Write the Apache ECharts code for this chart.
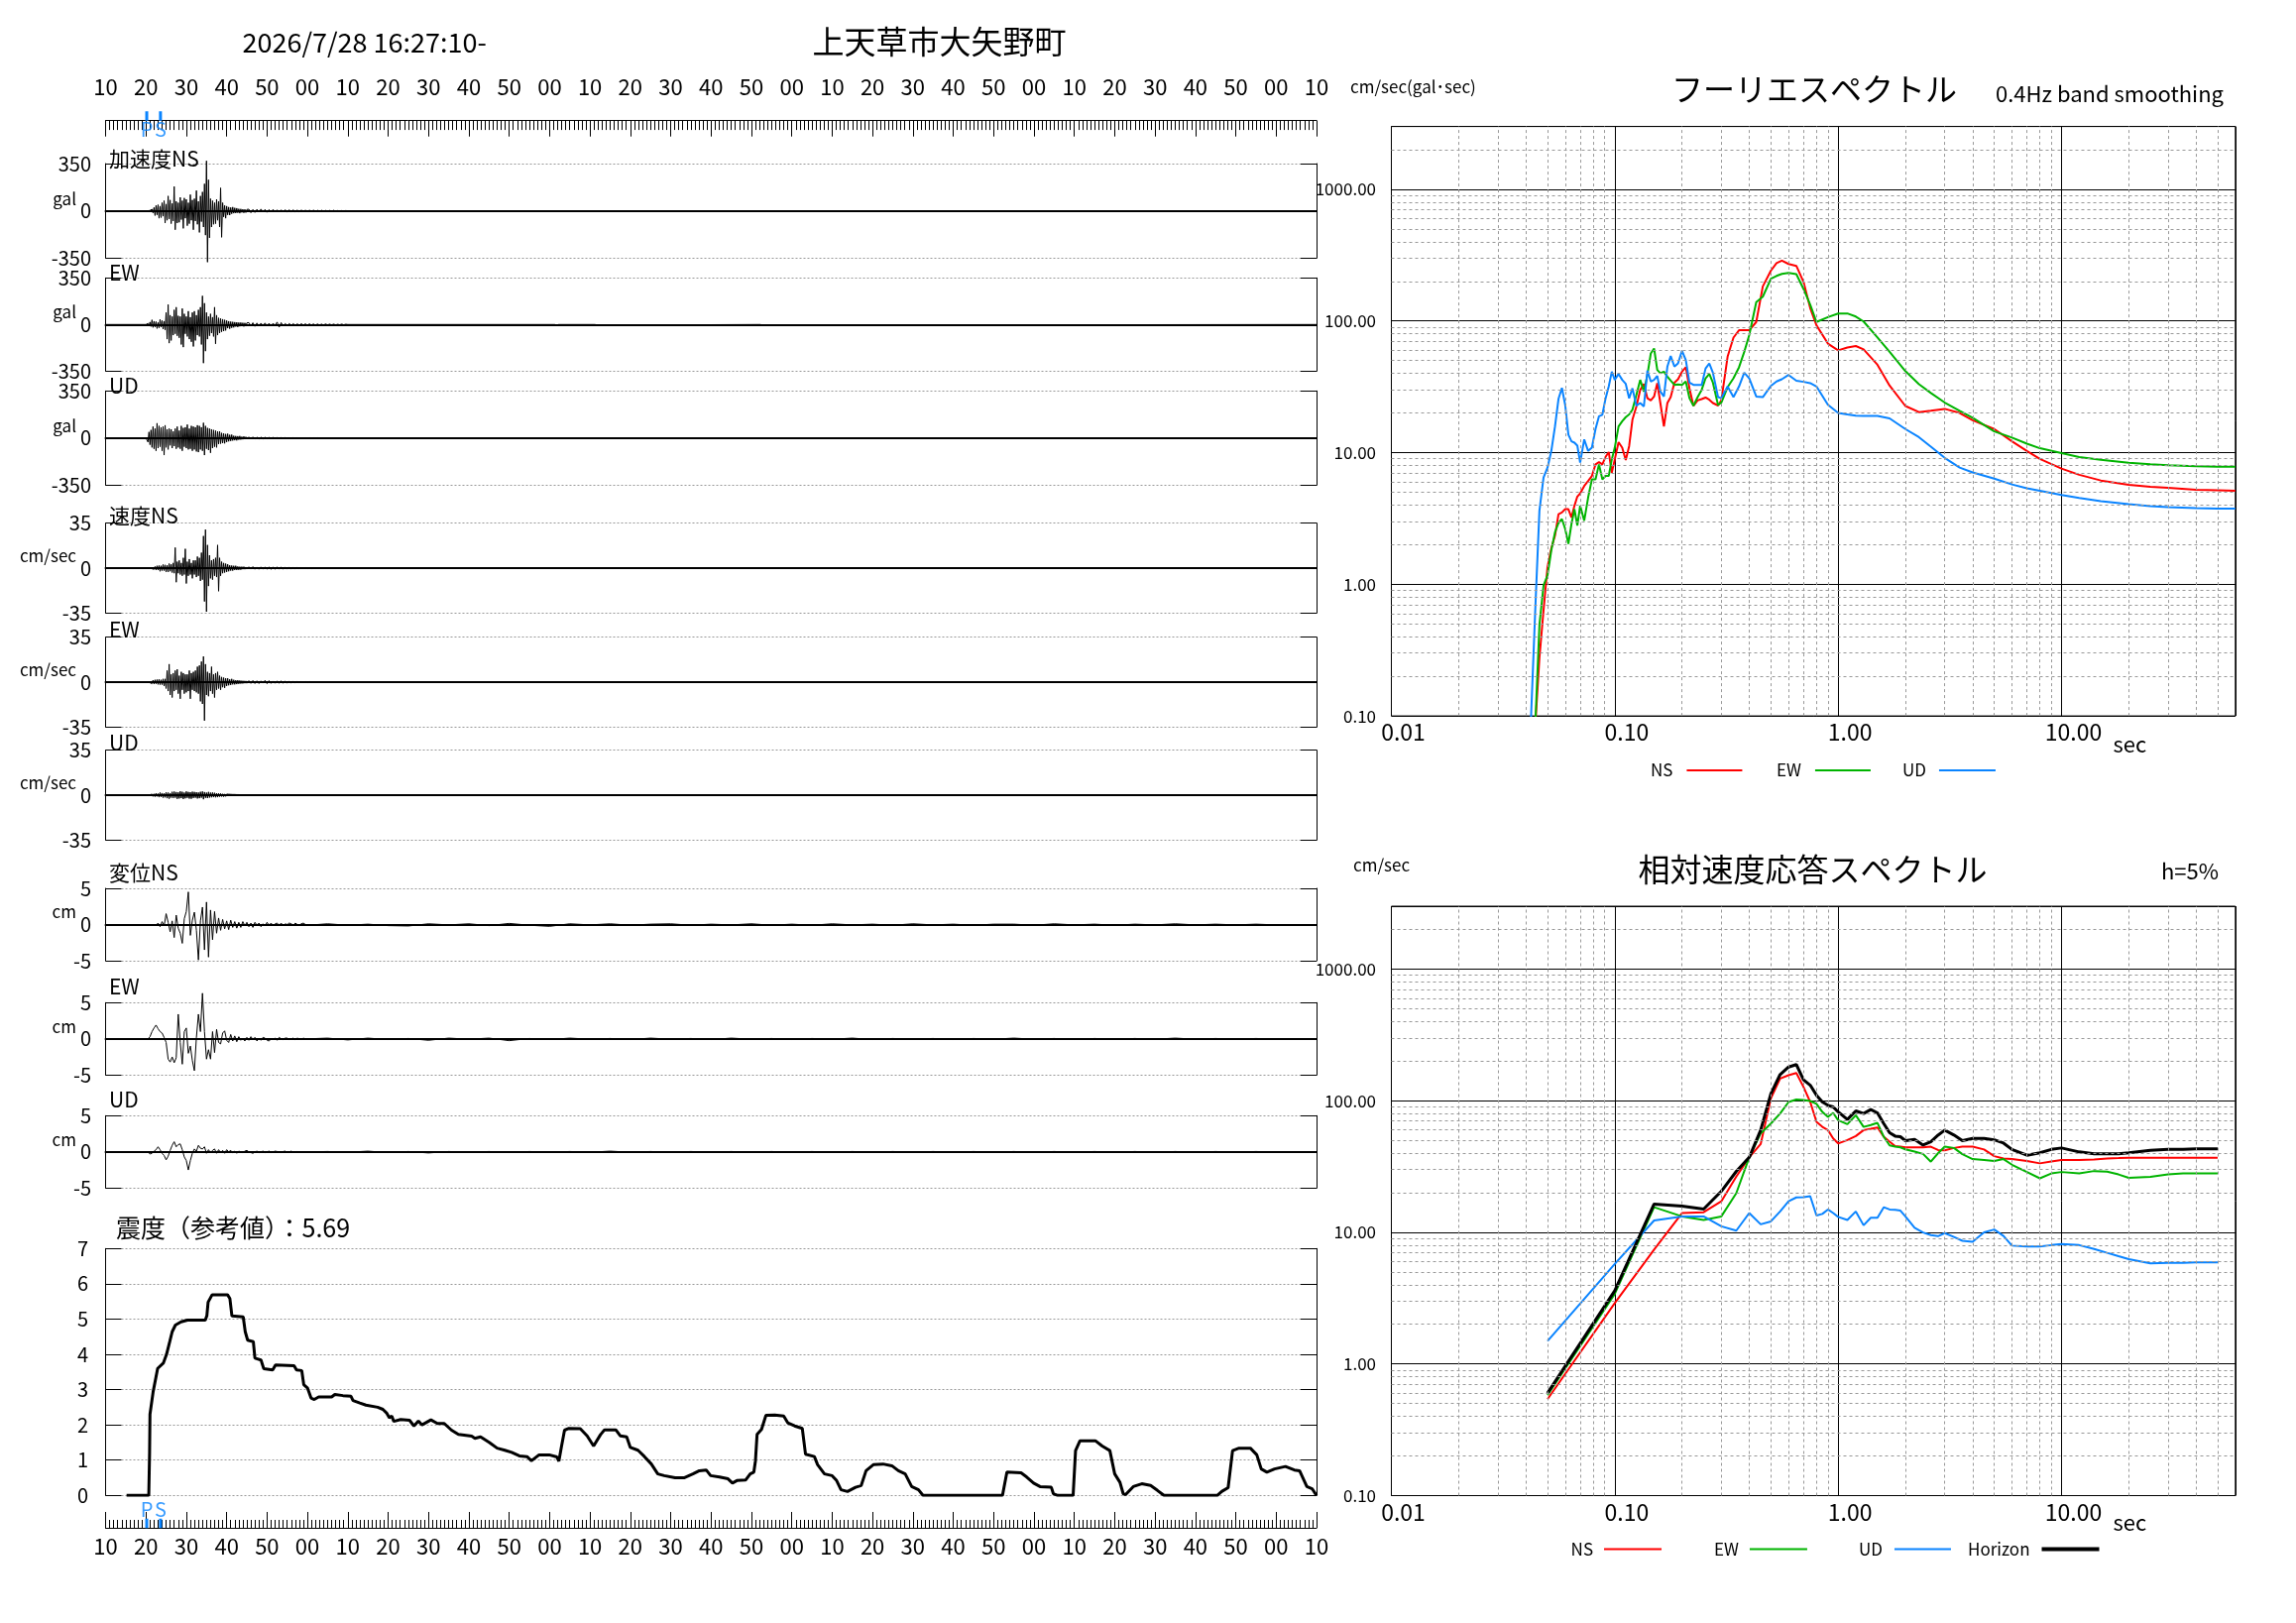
<!DOCTYPE html>
<html><head><meta charset="utf-8">
<script src="https://cdn.jsdelivr.net/npm/echarts/dist/echarts.min.js"></script>
<style>html,body{margin:0;padding:0;background:#fff}#c{width:2316px;height:1637px}</style>
</head><body><div id="c"></div>
<script>
// ---------------- DATA ----------------
const TIME_MIN = 10, TIME_MAX = 310;          // seconds after 16:27:00
const PS_TIMES = [20.2, 23.6];
const PS_LABELS = ['P', 'S'];

const WAVE_TITLES = ['加速度NS','EW','UD','速度NS','EW','UD','変位NS','EW','UD'];
const WAVE_UNITS = ['gal','gal','gal','cm/sec','cm/sec','cm/sec','cm','cm','cm'];
const WAVE_RANGE = [350,350,350,35,35,35,5,5,5];

// acceleration (gal), 0.25 s steps from t=20 s
const ACC_NS = [0,0,0,0, 3,-8,12,-15, 25,-35,40,-30, 45,-55,35,-50, 60,-40,75,-90, 50,-70,110,-60,
 80,-95,55,-75, 180,-140,70,-90, 60,-85,100,-65, 75,-130,95,-55, 85,-110,60,-95, 120,-70,80,-140,
 90,-75,150,-100, 70,-160,110,-80, 140,-120,200,-180, 370,-380,230,-200, 90,-120,75,-100, 60,-95,85,-70,
 70,-120,170,-196, 60,-45,40,-55, 35,-30,28,-32, 25,-22,28,-18, 22,-17,20,-15, 15,-18,14,-12, 12,-15,11,-13, 10];
const ACC_EW = [0,0,8,-12, 18,-15,35,-22, 25,-18,22,-30, 15,-25,38,-20, 30,-35,25,-40, 90,-110,150,-140,
 70,-120,60,-80, 110,-70,130,-85, 65,-100,60,-150, 120,-170,80,-70, 60,-90,100,-110, 55,-130,90,-165,
 100,-120,70,-80, 110,-90,130,-150, 215,-290,160,-200, 90,-110,60,-85, 80,-65,55,-90, 130,-145,70,-80,
 50,-65,45,-55, 40,-50,35,-45, 30,-28,25,-32, 22,-25,20,-22, 18,-16,17,-19, 15,-14,15,-13, 13,-15,12,-13, 12];
const ACC_UD = [0,5,-30,45, -50,60,-70,85, -80,70,-95,110, -75,90,-65,80, -95,85,-127,95, -70,65,-85,70,
 -55,65,-75,50, -60,70,-80,85, -70,55,-80,90, -95,75,-65,80, -75,100,-85,70, -80,90,-95,85,
 -85,80,-100,95, -105,90,-85,80, -95,113,-127,90, -80,75,-90,70, -110,65,-75,60, -65,55,-70,50,
 -45,50,-42,38, -38,34,-40,30, -30,32,-25,24, -22,25,-19,17, -17,15,-18,14, -13,15,-12,10, -10,12,-9,9, -8];
// acceleration coda, 0.5 s steps from t=45.5 s
const ACC_NS_TAIL = [12,-14,10,-12,11,-10,13,-9,10,-11, 9,-7,10,-8,7,-9,7,-8,8,-7,
 7,-6,7,-7,6,-7,6,-5,5,-5, 5,-4,5,-4,4,-4,4,-3,3,-4, 3,-3,4,-2,2,-3,2,-2,2,0];
const ACC_EW_TAIL = [14,-11,13,-14,11,-12,10,-9,11,-10, 9,-11,9,-7,18,-20,14,-12,7,-7,
 7,-6,6,-7,5,-6,6,-5,5,-5, 5,-4,4,-5,4,-4,3,-4,4,-3, 3,-3,3,-3,2,-2,3,-2,2,0];
const ACC_UD_TAIL = [8,-7,8,-8,6,-6,6,-6,5,-5, 4,-5,4,-3,3,-4,3,-3,3,-3,
 2,-2,3,-2,2,-2,2,-2,2,-2, 2,-2,2,-2,2,-2,1,-1,1,-1, 1,-1,1,-1,1,-1,1,-1,1,0];
const ACC_EW_BLIPS = [[121.25,0],[121.5,8],[121.75,-7],[122,5],[122.25,0],[131.25,0],[131.5,5],[131.75,-5],[132,0],
 [172.25,0],[172.5,6],[172.75,-6],[173,5],[173.25,-5],[173.5,0]];

// velocity (cm/sec), 0.25 s steps from t=20 s
const VEL_NS = [0,0,0,0, 0,0.3,-0.5,0.8, -1,1.2,-1.5,1.8, -1.5,2,-2.5,1.8, -2,2.8,-2,2.5, -3,2.2,-3,3.5,
 -2.5,3,-3.5,4, -4,16,-11,5, -4,6,-5,4, -6,8,-5,15, -12,5,-6,7, -5,4,-8,6,
 -5,6,-7,9, -6,8,-10,12, -9,25,-26,30, -34,18,-14,10, -8,6,-9,7, -6,8,-7,18,
 -18,8,-6,5, -4,4,-3.5,3.5, -3,3,-2.5,2.2, -2,2,-2,1.8, -1.5,1.8,-1.5,1.3, -1.4,1.1,-1.3,1.1, -0.9,1.1,-0.9,0.8, -0.8];
const VEL_EW = [0,0,0,0.3, -0.5,1,-1.2,1.5, -1.5,1.8,-1.3,2, -1.8,2.2,-2,1.8, -2,2.5,-3,2.5, -5,9,-7,14,
 -10,6,-12,7, -7,9,-6,10, -9,5,-13,8, -6,7,-9,6, -8,6,-7,9, -13,7,-6,8,
 -7,9,-8,12, -9,13,-15,16, -17,20,-30,14, -10,8,-11,7, -7,12,-9,6, -12,7,-6,8,
 -5,5,-6,4, -4,3.5,-4.5,3, -3,3,-2.5,2.2, -2.2,2.5,-1.8,1.8, -1.8,1.5,-1.6,1.5, -1.4,1.3,-1.2,1.1, -1.1,1,-0.9,0.9, -0.9];
const VEL_UD = [0,0,0,0, 0.3,-0.5,0.8,-1, 1,-1.2,1.5,-1, 1.2,-1.6,2,-1.4, 1.6,-2,1.4,-1.8, 2.2,-2.4,2,-2.8,
 1.6,-2,2.6,-2.2, 2.8,-2,2.4,-2.9, 2.2,-2.6,3,-2.3, 2.6,-3,2,-2.5, 2.9,-2.1,2.5,-2.7, 2.3,-2.8,2.7,-2.2,
 2.5,-2,2.3,-2.6, 2.1,-2.4,2.6,-2, 2.9,-3.2,2.4,-2.1, 2,-2.3,2.5,-1.9, 2,-1.7,2.1,-1.6, 1.8,-1.7,1.5,-1.6,
 1.4,-1.2,1.3,-1.1, 1,-1.2,0.9,-1, 0.8,-0.7,0.7,-0.7, 0.6,-0.6,0.5,-0.6, 0.5,-0.4,0.4,-0.5, 0.4,-0.3,0.3,-0.3, 0.3,-0.3,0.3,-0.2, 0.2];
// velocity coda, 0.5 s steps from t=45.5 s
const VEL_NS_TAIL = [1.0,-0.8,1.1,-0.9,0.8,-0.9,0.9,-0.7,0.8,-0.8, 0.7,-0.8,0.6,-0.7,0.7,-0.5,0.6,-0.6,0.5,-0.5,
 0.5,-0.5,0.4,-0.5,0.5,-0.4,0.4,-0.4,0.4,-0.4, 0.3,-0.4,0.3,-0.3,0.3,-0.3,0.3,-0.3,0.3,-0.2, 0.2,-0.2,0.3,-0.2,0.2,-0.2,0.2,-0.2,0.1,0];
const VEL_EW_TAIL = [1.1,-1,1.2,-1.1,1,-1.1,0.9,-0.8,1.3,-1.2, 1.1,-1,0.8,-0.9,0.8,-0.7,0.8,-0.7,0.6,-0.6,
 0.5,-0.6,0.5,-0.5,0.5,-0.4,0.4,-0.4,0.4,-0.4, 0.4,-0.3,0.3,-0.3,0.3,-0.3,0.3,-0.3,0.3,-0.2, 0.2,-0.2,0.2,-0.2,0.2,-0.2,0.2,-0.1,0.1,0];
const VEL_UD_TAIL = [-0.3,0.2,-0.3,0.2,-0.2,0.2,-0.2,0.2,-0.2,0.2, -0.2,0.2,-0.2,0.1,-0.2,0.1,-0.1,0.2,-0.1,0.1,
 -0.1,0.1,-0.1,0.1,-0.1,0.1,-0.1,0.1,-0.1,0.1, -0.1,0.1,-0.1,0.1,-0.1,0.1,-0.1,0.1,-0.1,0.1, -0.1,0.1,-0.1,0.1,-0.1,0.1,-0.1,0.1,-0.1,0];

// displacement (cm), 0.5 s steps from t=20 s
const DISP_NS = [0,0, 0,0, 0,-0.1, 0.2,-0.3, 0.4,-0.2, 1.5,0.3, -1.0,0.5, -1.8,1.3, -0.5,-1.2, -2.6,0.8,
 1.8,4.5, -1.5,0.6, 1.7,-0.8, -4.9,0.5, 2.4,-3.5, 3.1,-4.5, 2.0,-2.1, 1.8,-1.2, 0.9,-0.8, 0.7,-0.6,
 0.5,-0.7, 0.6,-0.4, 0.4,-0.5, 0.3,-0.4, 0.4,-0.2, 0.3,-0.3, 0.2,-0.4, 0.3,-0.1, 0.2,-0.3, 0.1,-0.2,
 0.3,-0.1, 0.2,-0.2, 0.1,0.2, -0.1,0.2, -0.2,0.1, 0,0.2, 0.1,-0.1, 0.2,0, -0.1,0.1, 0.2,0, -0.1];
const DISP_EW = [0,0, 0.3,1.0, 1.5,1.9, 1.4,1.0, 0.8,0.2, -0.5,-2.8, -3.2,-2.5, -3.3,-2.6, 3.4,-0.5, -3.5,1.0,
 1.5,-2.0, -1.0,-3.0, -4.4,0.2, 3.4,1.0, 6.3,1.0, -2.8,-1.5, -2.8,1.0, -1.9,1.3, -0.5,-0.7, 0.8,1.1,
 -0.2,-0.5, 0.6,-0.3, 0.4,-0.4, 0.3,-0.2, 0.1,-0.3, 0.2,-0.2, 0.3,-0.1, 0.2,-0.3, 0.1,-0.2, 0.2,0.1,
 -0.2,-0.3, 0,-0.1, 0.1,-0.2, 0.2,0, -0.1,0.1, 0.1,-0.1, 0,0.1, -0.1,0.1, 0,-0.1, 0.1,0, 0];
const DISP_UD = [0,0, -0.3,-0.2, 0.1,0.3, 0.7,0.3, -0.2,-0.5, -1.1,-0.6, 0.2,0.9, 1.4,0.7, 1.0,1.1, 0.3,-0.7,
 -1.2,-2.5, -1.2,-0.2, 0.4,0.1, 0.9,0.5, 0.4,0.7, -0.2,0.3, -0.1,0.2, 0.4,-0.2, 0.3,-0.1, 0.2,-0.2,
 0.3,0, 0.2,-0.1, 0.1,-0.2, 0.1,0, -0.1,0.1, 0.2,0, -0.1,-0.2, 0,0.1, -0.1,0, 0.1,-0.1,
 0,0.1, -0.1,0, 0.1,0.05, 0,-0.1, 0.05,0.1, -0.05,0, 0.1,-0.05, 0,0.05, -0.05,0, 0.05,0, 0];
// displacement long-period coda, 5 s steps from t=65 s
const DISP_NS_TAIL = [0.1,-0.1,0.05,-0.15,-0.2,0.1,-0.05,0.1,-0.15,0.15, -0.1,-0.25,0.1,-0.05,0.1,-0.1,0.05,0.1,-0.1,0.05,
 -0.05,0.1,-0.1,0.05,-0.1,0.1,-0.05,0.05,-0.1,0.1, -0.05,0.05,-0.1,0.05,0.05,-0.1,0.1,-0.05,0.05,-0.1, 0.05,-0.05,0.1,-0.05,0.05,-0.05,0.05,-0.05,0];
const DISP_EW_TAIL = [0.1,-0.15,0.1,-0.1,0.05,-0.2,0.1,-0.05,0.1,-0.25, 0.05,-0.1,0.1,-0.05,0.05,-0.1,0.1,-0.05,0.05,-0.1,
 0.1,-0.05,0.05,-0.1,0.05,-0.05,0.1,-0.1,0.05,-0.05, 0.05,-0.1,0.05,-0.05,0.1,-0.05,0.05,-0.1,0.05,-0.05, 0.05,-0.05,0.1,-0.05,0.05,-0.05,0.05,-0.05,0];
const DISP_UD_TAIL = [0.05,-0.05,0.1,-0.1,0.05,-0.15,0.05,-0.05,0.05,-0.1, 0.05,-0.05,0.05,-0.05,0.1,-0.05,0.05,-0.05,0.05,-0.05,
 0.05,-0.05,0.05,-0.05,0.05,-0.05,0.05,-0.05,0.05,-0.05, 0.05,-0.05,0.05,-0.05,0.05,-0.05,0.05,-0.05,0.05,-0.05, 0.05,-0.05,0.05,-0.05,0.05,-0.05,0.05,-0.05,0];

// seismic intensity (reference value) vs time [t, I]
const INTENSITY = [[15.2,0],[20.7,0],[20.9,1.2],[21.0,2.3],[21.8,2.95],[22.9,3.6],[24.3,3.75],[25.1,4.0],[25.9,4.36],[26.5,4.64],
 [27.3,4.83],[28.7,4.92],[30.3,4.97],[34.7,4.97],[35.1,5.1],[35.4,5.48],[36.4,5.69],[40.2,5.69],[40.8,5.58],[41.3,5.09],
 [44.1,5.06],[44.6,4.64],[45.2,4.4],[46.6,4.36],[47.0,3.89],[48.5,3.84],[49.2,3.59],[51.4,3.56],[52.1,3.7],[56.7,3.68],
 [57.3,3.56],[58.6,3.54],[59.1,3.14],[60.0,3.05],[60.9,2.76],[61.7,2.72],[62.8,2.79],[66.0,2.79],[66.8,2.86],[68.8,2.83],
 [70.8,2.81],[71.3,2.69],[73.0,2.62],[74.5,2.56],[77.4,2.5],[78.7,2.44],[79.6,2.34],[80.3,2.2],[80.9,2.25],[81.4,2.1],
 [83.1,2.15],[85.3,2.13],[86.4,1.97],[87.5,2.11],[88.4,2.0],[89.5,2.07],[90.6,2.14],[92.2,2.04],[93.9,2.04],[95.7,1.85],
 [97.4,1.73],[100.7,1.68],[101.5,1.62],[102.9,1.66],[105.1,1.5],[107.0,1.34],[108.9,1.28],[110.6,1.22],[112.5,1.12],[114.4,1.1],
 [115.5,0.98],[117.4,1.15],[119.9,1.15],[121.8,1.09],[122.3,0.97],[122.9,1.36],[123.7,1.85],[124.8,1.9],[127.6,1.89],[129.3,1.69],
 [130.9,1.4],[132.6,1.72],[133.6,1.86],[136.4,1.86],[137.5,1.69],[139.1,1.66],[140.0,1.36],[141.9,1.28],[143.5,1.1],[145.2,0.89],
 [146.8,0.61],[148.4,0.56],[151.1,0.5],[153.3,0.5],[155.5,0.61],[157.1,0.7],[158.8,0.72],[159.9,0.56],[162.1,0.52],[164.2,0.47],
 [165.3,0.35],[166.4,0.42],[168.6,0.44],[169.7,0.61],[170.6,0.66],[171.0,0.98],[171.4,1.73],[172.5,1.87],[173.6,2.27],[175.8,2.28],
 [178.0,2.25],[179.0,2.06],[180.7,1.97],[182.6,1.9],[183.4,1.17],[185.6,1.1],[186.4,0.87],[188.1,0.61],[190.0,0.56],[191.1,0.42],
 [192.2,0.16],[193.8,0.11],[195.8,0.23],[197.2,0.28],[198.4,0.7],[200.2,0.87],[202.6,0.89],[204.8,0.84],[206.4,0.7],[208.1,0.61],
 [209.7,0.25],[211.4,0.16],[212.5,0],[232.2,0],[233.3,0.66],[236.8,0.64],[238.2,0.52],[239.9,0.35],[241.5,0.25],[244.3,0.23],
 [244.8,0.05],[245.9,0],[249.7,0],[250.3,1.27],[251.4,1.55],[255.2,1.55],[256.9,1.4],[258.8,1.27],[260.0,0.61],[261.3,0.37],
 [262.1,0.05],[262.7,0.02],[264.6,0.25],[266.7,0.33],[268.9,0.28],[270.6,0.14],[272.2,0],[285.4,0],[286.5,0.11],[288.1,0.22],
 [289.2,1.27],[290.8,1.34],[293.6,1.34],[295.2,1.15],[296.3,0.75],[297.7,0.66],[299.6,0.75],[302.3,0.82],[304.5,0.72],[305.8,0.7],
 [307.6,0.25],[308.9,0.19],[310.0,0]];
const INTENSITY_VALUE = '5.69';

// Fourier spectrum (cm/sec), periods in sec
const FS_T = [0.040,0.042,0.044,0.046,0.048,0.050,0.052,0.054,0.056,0.058,0.060,0.062,0.064,0.066,0.068,0.070,
 0.073,0.076,0.079,0.082,0.085,0.088,0.091,0.094,0.097,0.100,0.104,0.108,0.112,0.116,0.120,0.125,0.130,0.135,0.140,
 0.145,0.150,0.155,0.160,0.166,0.172,0.178,0.185,0.192,0.200,0.208,0.216,0.225,0.235,0.245,0.255,0.265,0.275,0.29,0.30,
 0.32,0.34,0.36,0.38,0.40,0.43,0.46,0.50,0.53,0.56,0.60,0.65,0.70,0.75,0.80,0.90,1.0,1.1,1.2,1.3,1.5,1.7,2.0,2.3,2.6,
 3.0,3.5,4.0,5.0,6.0,7.0,8.0,10,12,15,20,25,30,40,50,60];
const FS_NS = [null,null,0.08,0.275,0.637,1.35,1.88,2.34,3.41,3.51,3.72,3.72,3.22,3.95,4.64,4.89,
 5.58,6.09,6.65,8.14,8.47,8.14,9.30,10.1,7.04,8.88,12.0,10.9,8.78,11.2,17.8,22.4,30.0,33.3,25.9,
 24.9,26.7,33.7,23.8,15.8,23.8,26.4,34.0,36.1,41.2,44.5,30.8,22.7,24.9,25.5,26.2,25.2,23.8,22.8,24.9,
 53.5,74.8,85.1,85.1,85.1,98.3,183,241,275,287,271,262,198,125,92.7,67.3,59.8,62.9,64.5,60.8,46.5,32.3,22.6,20.3,20.8,
 21.5,20.0,17.6,15.1,12.2,10.3,8.96,7.57,6.79,6.14,5.69,5.50,5.40,5.23,5.18,5.14];
const FS_EW = [null,null,0.08,0.49,0.98,1.17,1.81,2.48,2.92,3.13,2.63,2.03,2.87,3.72,2.79,3.95,
 3.04,4.56,6.27,6.27,8.14,6.27,6.65,6.65,8.88,10.9,15.8,17.3,18.6,19.5,21.2,27.5,35.7,29.1,38.9,
 56.7,61.8,42.5,40.1,41.2,37.8,35.2,32.7,32.9,32.7,34.7,25.9,22.7,26.4,30.0,36.7,39.6,34.0,23.0,24.0,
 31.4,36.7,44.5,58.3,78.0,139,153,209,220,228,232,227,175,133,98.3,107,114,114,108,99.1,75.0,58.3,41.6,33.1,28.4,
 24.0,20.8,18.4,14.5,13.0,11.7,10.8,9.92,9.27,8.81,8.38,8.17,8.03,7.89,7.83,7.83];
const FS_UD = [null,0.08,0.60,3.62,6.46,7.69,10.3,15.8,25.6,31.0,23.0,13.7,12.2,11.9,11.3,8.4,
 12.6,10.3,10.9,15.1,18.9,19.4,25.9,31.8,41.2,35.7,39.6,35.7,33.3,25.9,30.8,22.7,23.8,22.4,42.0,
 34.7,35.7,38.2,29.1,26.7,45.0,54.1,45.0,47.6,59.4,50.5,34.0,32.7,32.7,32.7,43.6,47.6,40.5,26.4,25.9,
 31.8,26.4,31.8,40.5,36.7,26.7,26.4,32.1,34.7,36.1,38.9,35.2,34.5,33.7,31.8,23.1,20.0,19.5,19.1,19.0,19.0,18.2,15.1,13.1,11.1,
 9.12,7.69,7.08,6.34,5.73,5.36,5.14,4.76,4.53,4.27,4.06,3.92,3.85,3.79,3.76,3.76];

// relative velocity response spectrum h=5% (cm/sec)
const RS_T = [0.05,0.10,0.15,0.20,0.25,0.30,0.35,0.40,0.45,0.50,0.55,0.60,0.65,0.70,0.75,0.80,0.85,0.90,0.95,1.0,
 1.1,1.2,1.3,1.4,1.5,1.6,1.7,1.8,1.9,2.0,2.2,2.4,2.6,2.8,3.0,3.3,3.6,4.0,4.5,5.0,5.5,6.0,7.0,8.0,9.0,10,12,14,16,18,20,25,30,35,40,50];
const RS_NS = [0.54,2.90,7.38,14.0,14.2,17.2,26.5,37.1,46.8,104,147,156,162,127,97.7,69.0,63.2,59.7,51.6,47.3,
 50.2,53.8,59.7,61.1,62.5,53.2,48.8,45.2,44.7,44.2,44.2,44.2,44.7,42.2,41.9,43.7,44.8,44.8,42.6,37.9,36.3,36.0,34.8,33.4,34.5,35.4,35.4,35.7,36.3,36.6,36.9,36.9,36.9,36.9,36.9,36.9];
const RS_EW = [0.58,3.4,15.5,13.2,12.4,13.2,19.8,37.1,56.4,67.0,79.8,97.7,102,101,99.4,94.4,82.0,75.3,80.7,71.1,
 66.2,77.5,63.2,65.2,67.8,53.2,45.7,44.7,44.2,42.7,41.0,39.4,34.4,39.8,44.8,43.7,39.2,36.0,35.4,34.8,36.0,32.6,28.7,25.7,28.0,28.7,28.0,29.2,28.9,27.5,25.9,26.4,27.5,28.0,28.0,28.0];
const RS_UD = [1.49,5.75,12.3,13.2,13.2,11.1,10.3,14.0,11.5,12.1,14.4,17.2,18.4,18.5,18.8,13.4,13.8,14.9,14.0,13.1,
 12.4,14.4,11.3,12.9,12.9,15.5,14.9,14.8,14.6,13.2,10.8,9.97,9.52,9.35,9.86,9.22,8.62,8.47,10.0,10.5,9.37,7.92,7.79,7.79,7.99,8.13,7.99,7.47,6.98,6.58,6.26,5.80,5.85,5.85,5.90,5.90];
const RS_H = [0.60,3.60,16.4,15.8,15.0,20.5,29.0,37.1,59.7,113,158,180,188,144,131,110,97.7,92.2,89.5,82.2,
 71.9,83.6,79.8,85.5,80.7,67.0,57.0,53.8,53.2,49.7,50.8,46.0,48.8,54.7,59.7,54.8,49.6,51.7,51.7,50.4,47.6,42.6,38.5,40.2,42.6,43.7,40.8,39.5,39.5,39.5,40.2,41.9,42.6,42.6,43.0,43.0];

const LOG_X_MINOR = [0.02,0.03,0.04,0.05,0.06,0.07,0.08,0.09,0.2,0.3,0.4,0.5,0.6,0.7,0.8,0.9,2,3,4,5,6,7,8,9,20,30,40,50];
const LOG_Y_MINOR = [0.2,0.3,0.4,0.5,0.6,0.7,0.8,0.9,2,3,4,5,6,7,8,9,20,30,40,50,60,70,80,90,200,300,400,500,600,700,800,900,2000];

// ---------------- LAYOUT / STYLE ----------------
const FONT = 'Noto Sans CJK JP';
const RED = '#ff0000', GREEN = '#00b400', BLUE = '#0a84ff', GRID_GRAY = '#999';
const L = 106.5, W = 1221.5;
const WAVE_LAYOUT = [
  {top:165, height:95.3, titleY:160}, {top:280.3, height:94, titleY:275}, {top:394.3, height:95, titleY:389.3},
  {top:527.7, height:90.6, titleY:520}, {top:642.7, height:90.6, titleY:635}, {top:756.7, height:90.6, titleY:749.3},
  {top:896, height:73, titleY:880}, {top:1011.3, height:73, titleY:995}, {top:1125.3, height:73, titleY:1109}
];

function wave(main, t0, dt, tail, t1, dt1, extra) {
  const pts = [[TIME_MIN, 0]];
  main.forEach((v, i) => pts.push([t0 + i * dt, v]));
  tail.forEach((v, i) => pts.push([t1 + i * dt1, v]));
  (extra || []).forEach(p => pts.push(p));
  pts.push([TIME_MAX, 0]);
  pts.sort((a, b) => a[0] - b[0]);
  return pts;
}
const WAVES = [
  wave(ACC_NS, 20, 0.25, ACC_NS_TAIL, 45.5, 0.5),
  wave(ACC_EW, 20, 0.25, ACC_EW_TAIL, 45.5, 0.5, ACC_EW_BLIPS),
  wave(ACC_UD, 20, 0.25, ACC_UD_TAIL, 45.5, 0.5),
  wave(VEL_NS, 20, 0.25, VEL_NS_TAIL, 45.5, 0.5),
  wave(VEL_EW, 20, 0.25, VEL_EW_TAIL, 45.5, 0.5),
  wave(VEL_UD, 20, 0.25, VEL_UD_TAIL, 45.5, 0.5),
  wave(DISP_NS, 20, 0.5, DISP_NS_TAIL, 65, 5),
  wave(DISP_EW, 20, 0.5, DISP_EW_TAIL, 65, 5),
  wave(DISP_UD, 20, 0.5, DISP_UD_TAIL, 65, 5)
];

const grids = [], xAxes = [], yAxes = [], series = [], graphics = [];
const timeFmt = v => String(Math.round(v) % 60).padStart(2, '0');
const decFmt = v => { const l = Math.log10(v); return Math.abs(l - Math.round(l)) < 1e-6 ? v.toFixed(2) : ''; };
function addGrid(g) { grids.push(Object.assign({outerBoundsMode:'none', containLabel:false}, g)); return grids.length - 1; }
function txt(text, x, y, size, align, color) {
  return {type:'text', x:x, y:y, silent:true, z:100,
    style:{text:text, fill:color || '#000', font:size + 'px "' + FONT + '"', fontSize:size, fontFamily:FONT,
      align:align || 'left', textAlign:align || 'left', verticalAlign:'middle', textVerticalAlign:'middle'}};
}
const blackLine = {color:'#000', width:1};
const dotted = {show:true, lineStyle:{color:GRID_GRAY, width:1, type:[2,2]}};

// --- top time axis ---
const gTop = addGrid({left:L, width:W, top:112.3, height:9.4});
xAxes.push({gridIndex:gTop, type:'value', min:TIME_MIN, max:TIME_MAX, interval:10, position:'top',
  axisLine:{show:true, lineStyle:blackLine},
  axisTick:{show:true, inside:true, length:16, lineStyle:blackLine},
  minorTick:{show:true, splitNumber:10, length:9.4, lineStyle:blackLine},
  axisLabel:{show:true, margin:14, fontSize:22, color:'#000', fontFamily:FONT, formatter:timeFmt},
  splitLine:{show:false}});
yAxes.push({gridIndex:gTop, type:'value', min:0, max:1, show:false});
let xi = xAxes.length - 1, yi = yAxes.length - 1;
PS_TIMES.forEach((t, i) => {
  series.push({type:'line', xAxisIndex:xi, yAxisIndex:yi, data:[[t,0],[t,1]], symbol:'none', silent:true,
    lineStyle:{color:BLUE, width:3}, clip:false});
});
series.push({type:'scatter', xAxisIndex:xi, yAxisIndex:yi, symbolSize:0, silent:true, z:10,
  data:PS_TIMES.map((t, i) => ({value:[t, 0], label:{formatter:PS_LABELS[i]}})),
  label:{show:true, position:'bottom', distance:-1, color:BLUE, fontSize:20, fontFamily:FONT}});

// --- waveform panels ---
WAVE_LAYOUT.forEach((lay, p) => {
  const g = addGrid({left:L, width:W, top:lay.top, height:lay.height});
  const A = WAVE_RANGE[p];
  xAxes.push({gridIndex:g, type:'value', min:TIME_MIN, max:TIME_MAX,
    axisLine:{show:true, onZero:true, lineStyle:{color:'#000', width:2}},
    axisTick:{show:false}, axisLabel:{show:false}, splitLine:{show:false}});
  const x = xAxes.length - 1;
  yAxes.push({gridIndex:g, type:'value', min:-A, max:A, interval:A, position:'left',
    axisLine:{show:true, onZero:false, lineStyle:blackLine},
    axisTick:{show:true, inside:true, length:16, lineStyle:blackLine},
    axisLabel:{show:true, margin:14.5, fontSize:20, color:'#000', fontFamily:FONT, padding:[0,0,6,0]},
    splitLine:dotted});
  const y = yAxes.length - 1;
  yAxes.push({gridIndex:g, type:'value', min:-A, max:A, interval:A, position:'right',
    axisLine:{show:true, onZero:false, lineStyle:blackLine},
    axisTick:{show:true, inside:true, length:16, lineStyle:blackLine},
    axisLabel:{show:false}, splitLine:{show:false}});
  series.push({type:'line', name:'wave' + p, xAxisIndex:x, yAxisIndex:y, data:WAVES[p], symbol:'none',
    silent:true, clip:false, lineStyle:{color:'#000', width:1}});
  graphics.push(txt(WAVE_TITLES[p], 110, lay.titleY, 21, 'left'));
  graphics.push(txt(WAVE_UNITS[p], 77, lay.top + lay.height / 2 - 12.5, 17, 'right'));
});

// --- intensity panel ---
const gI = addGrid({left:L, width:W, top:1259.3, height:249});
xAxes.push({gridIndex:gI, type:'value', min:TIME_MIN, max:TIME_MAX, interval:10, position:'bottom', offset:32.7,
  axisLine:{show:true, onZero:false, lineStyle:blackLine},
  axisTick:{show:true, inside:true, length:16, lineStyle:blackLine},
  minorTick:{show:true, splitNumber:10, length:8, lineStyle:blackLine},
  axisLabel:{show:true, margin:7.5, fontSize:22, color:'#000', fontFamily:FONT, formatter:timeFmt},
  splitLine:{show:false}});
xi = xAxes.length - 1;
yAxes.push({gridIndex:gI, type:'value', min:0, max:7, interval:1, position:'left',
  axisLine:{show:true, onZero:false, lineStyle:blackLine},
  axisTick:{show:true, inside:true, length:16, lineStyle:blackLine},
  axisLabel:{show:true, margin:17.5, fontSize:20, color:'#000', fontFamily:FONT, padding:[0,0,7,0]},
  splitLine:dotted});
yi = yAxes.length - 1;
yAxes.push({gridIndex:gI, type:'value', min:0, max:7, interval:1, position:'right',
  axisLine:{show:true, onZero:false, lineStyle:blackLine},
  axisTick:{show:true, inside:true, length:16, lineStyle:blackLine},
  axisLabel:{show:false}, splitLine:{show:false}});
series.push({type:'line', name:'intensity', xAxisIndex:xi, yAxisIndex:yi, data:INTENSITY, symbol:'none',
  silent:true, lineStyle:{color:'#000', width:3}});
graphics.push(txt('震度（参考値）：' + INTENSITY_VALUE, 117, 1238.3, 25, 'left'));

// --- bottom P/S markers ---
const gPS = addGrid({left:L, width:W, top:1531.7, height:9.6});
xAxes.push({gridIndex:gPS, type:'value', min:TIME_MIN, max:TIME_MAX, show:false});
yAxes.push({gridIndex:gPS, type:'value', min:0, max:1, show:false});
xi = xAxes.length - 1; yi = yAxes.length - 1;
PS_TIMES.forEach(t => {
  series.push({type:'line', xAxisIndex:xi, yAxisIndex:yi, data:[[t,0],[t,1]], symbol:'none', silent:true,
    lineStyle:{color:BLUE, width:3}, clip:false});
});
series.push({type:'scatter', xAxisIndex:xi, yAxisIndex:yi, symbolSize:0, silent:true,
  data:PS_TIMES.map((t, i) => ({value:[t, 1], label:{formatter:PS_LABELS[i]}})),
  label:{show:true, position:'top', distance:-1, color:BLUE, fontSize:20, fontFamily:FONT}});

// --- log-log spectrum panels ---
function logPanel(top, curves) {
  const g = addGrid({left:1403.5, width:851.3, top:top, height:594.5, show:true, borderColor:'#000', borderWidth:1, backgroundColor:'transparent'});
  xAxes.push({gridIndex:g, type:'log', logBase:10, min:0.01, max:60,
    axisLine:{show:false}, axisTick:{show:false},
    axisLabel:{show:true, margin:5, fontSize:23, color:'#000', fontFamily:FONT, padding:[0,0,0,24], formatter:decFmt},
    splitLine:{show:true, lineStyle:{color:'#000', width:1}}});
  const x = xAxes.length - 1;
  yAxes.push({gridIndex:g, type:'log', logBase:10, min:0.1, max:3000,
    axisLine:{show:false}, axisTick:{show:false},
    axisLabel:{show:true, margin:15.5, fontSize:17, color:'#000', fontFamily:FONT, formatter:decFmt},
    splitLine:{show:true, lineStyle:{color:'#000', width:1}}});
  const y = yAxes.length - 1;
  series.push({type:'line', xAxisIndex:x, yAxisIndex:y, data:[], silent:true, z:1,
    markLine:{silent:true, symbol:'none', animation:false, label:{show:false},
      lineStyle:{color:GRID_GRAY, width:1, type:[3,3]},
      data:LOG_X_MINOR.map(v => ({xAxis:v})).concat(LOG_Y_MINOR.map(v => ({yAxis:v})))}});
  curves.forEach(c => {
    const pts = [];
    c.t.forEach((t, i) => { if (c.v[i] != null) pts.push([t, c.v[i]]); });
    series.push({type:'line', name:c.name, xAxisIndex:x, yAxisIndex:y, data:pts, symbol:'none', silent:true, z:3,
      lineStyle:{color:c.color, width:c.width}, itemStyle:{color:c.color}});
  });
}
logPanel(127.6, [
  {name:'NS', t:FS_T, v:FS_NS, color:RED, width:2},
  {name:'EW', t:FS_T, v:FS_EW, color:GREEN, width:2},
  {name:'UD', t:FS_T, v:FS_UD, color:BLUE, width:2}]);
logPanel(914, [
  {name:'NS', t:RS_T, v:RS_NS, color:RED, width:2},
  {name:'EW', t:RS_T, v:RS_EW, color:GREEN, width:2},
  {name:'UD', t:RS_T, v:RS_UD, color:BLUE, width:2},
  {name:'Horizon', t:RS_T, v:RS_H, color:'#000', width:3}]);

graphics.push(txt('2026/7/28 16:27:10-', 367.7, 43, 27, 'center'));
graphics.push(txt('上天草市大矢野町', 947.5, 42, 32, 'center'));
graphics.push(txt('cm/sec(gal･sec)', 1362, 87.3, 17, 'left'));
graphics.push(txt('フーリエスペクトル', 1830, 89.7, 32, 'center'));
graphics.push(txt('0.4Hz band smoothing', 2128, 94.6, 22, 'center'));
graphics.push(txt('sec', 2131.5, 750.4, 22, 'left'));
graphics.push(txt('cm/sec', 1365, 873, 17, 'left'));
graphics.push(txt('相対速度応答スペクトル', 1828.5, 876.7, 32, 'center'));
graphics.push(txt('h=5%', 2209, 879, 22, 'center'));
graphics.push(txt('sec', 2131.5, 1536, 22, 'left'));

function legendItem(name, left, top, w, h, gap) {
  return {data:[name], left:left, top:top, orient:'horizontal', icon:'rect', itemWidth:w, itemHeight:h,
    itemGap:0, padding:0, align:'right', selectedMode:false,
    textStyle:{fontSize:17, color:'#000', fontFamily:FONT, padding:[0, gap - 5, 0, 0]}};
}
const legends = [
  legendItem('NS', 1665, 768.5, 56, 2, 14), legendItem('EW', 1792, 768.5, 56, 2, 14), legendItem('UD', 1919, 768.5, 57, 2, 13),
  legendItem('NS', 1584.6, 1554, 58, 2, 11), legendItem('EW', 1729, 1554, 58, 2, 11),
  legendItem('UD', 1875, 1554, 57, 2, 12), legendItem('Horizon', 1985, 1554, 58, 4, 12)
];

const chart = echarts.init(document.getElementById('c'), null, {renderer:'canvas', width:2316, height:1637});
chart.setOption({
  animation:false, backgroundColor:'#fff',
  textStyle:{fontFamily:FONT},
  grid:grids, xAxis:xAxes, yAxis:yAxes, series:series, legend:legends, graphic:graphics
});
</script></body></html>
